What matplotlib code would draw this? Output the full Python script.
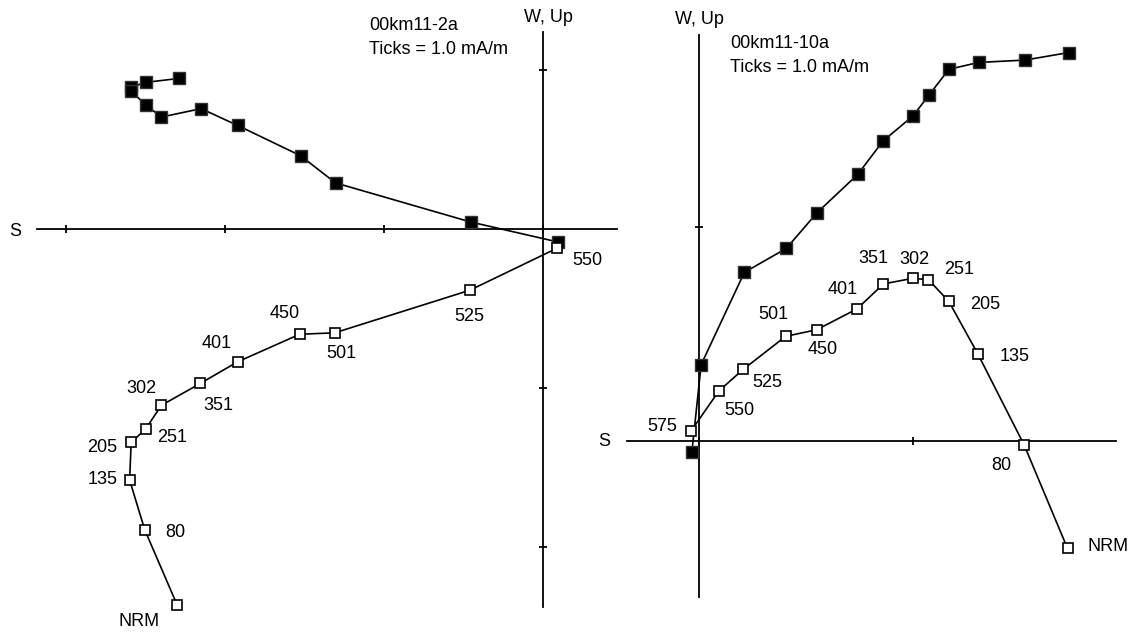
import numpy as np
import matplotlib
matplotlib.use("Agg")
import matplotlib.pyplot as plt

plt.rcParams['font.family'] = ['Liberation Sans', 'DejaVu Sans']

# demagnetisation steps
steps_a = ["NRM", "80", "135", "205", "251", "302", "351", "401", "450", "501", "525", "550"]
steps_b = ["NRM", "80", "135", "205", "251", "302", "351", "401", "450", "501", "525", "550", "575"]

# 00km11-2a (mA/m), N component on x
a_n = [-2.29, -2.50, -2.59, -2.59, -2.50, -2.40, -2.15, -1.92, -1.525, -1.305, -0.455, 0.095]
a_w = [0.947, 0.922, 0.892, 0.867, 0.782, 0.704, 0.757, 0.651, 0.461, 0.290, 0.044, -0.082]
a_n2 = [-2.30, -2.505, -2.60, -2.59, -2.50, -2.40, -2.155, -1.92, -1.53, -1.31, -0.46, 0.09]
a_up = [-2.367, -1.891, -1.578, -1.342, -1.259, -1.109, -0.971, -0.835, -0.662, -0.653, -0.385, -0.12]

# 00km11-10a (mA/m)
b_n = [1.727, 1.523, 1.307, 1.168, 1.075, 1.0, 0.86, 0.742, 0.552, 0.408, 0.212, 0.01, -0.033]
b_w = [1.815, 1.780, 1.769, 1.737, 1.617, 1.519, 1.402, 1.246, 1.067, 0.900, 0.788, 0.357, -0.05]
b_n2 = [1.722, 1.52, 1.303, 1.167, 1.072, 0.998, 0.862, 0.738, 0.55, 0.405, 0.207, 0.093, -0.037]
b_up = [-0.502, -0.020, 0.407, 0.653, 0.754, 0.760, 0.734, 0.617, 0.520, 0.489, 0.335, 0.234, 0.047]

W, H = 1135, 634
fig = plt.figure(figsize=(W / 100, H / 100), dpi=100)

# label offsets in pixels (dx right, dy up)
off_a = [(-38, -16), (31, -3), (-27, 0), (-29, -5), (27, -8), (-20, 17),
         (18, -22), (-21, 18), (-15, 21), (7, -21), (-1, -26), (30, -12)]
off_b = [(41, 2), (-23, -20), (37, -3), (36, -3), (31, 10), (2, 19),
         (-10, 25), (-14, 19), (6, -20), (-12, 22), (24, -13), (20, -20), (-29, 4)]


def panel(left, width, ox, oy, unit, hx, vy, ticks_x, ticks_y,
          n1, w1, n2, up2, labels, offs):
    ax = fig.add_axes([left / W, 0, width / W, 1])
    ax.set_xlim((left - ox) / unit, (left + width - ox) / unit)
    ax.set_ylim((oy - H) / unit, oy / unit)
    ax.axis('off')
    ax.plot(hx, [0, 0], color='black', lw=1.3)
    ax.plot([0, 0], vy, color='black', lw=1.3)
    ax.plot(ticks_x, np.zeros(len(ticks_x)), marker='|', ms=6, mew=1.3,
            ls='none', color='black')
    ax.plot(np.zeros(len(ticks_y)), ticks_y, marker='_', ms=6, mew=1.3,
            ls='none', color='black')
    ax.plot(n1, w1, '-', color='black', lw=1.2, marker='s', ms=8,
            mfc='black', mec='#333333', mew=1.0)
    ax.plot(n2, up2, '-', color='black', lw=1.2, marker='s', ms=6.5,
            mfc='white', mec='black', mew=1.2)
    for x, y, s, o in zip(n2, up2, labels, offs):
        ax.annotate(s, (x, y), xytext=o, textcoords='offset pixels',
                    ha='center', va='center', fontsize=13)
    return ax


panel(0, 620, 543, 229, 159, [-3.18, 0.465], [1.24, -2.38],
      [-3, -2, -1, 0], [1, -1, -2], a_n, a_w, a_n2, a_up, steps_a, off_a)
panel(620, 515, 699, 441, 214, [-0.336, 1.95], [1.897, -0.729],
      [0, 1], [1], b_n, b_w, b_n2, b_up, steps_b, off_b)


def ftext(x, y, s, **kw):
    fig.text(x / W, 1 - y / H, s, va='center', fontsize=13, **kw)


ftext(548, 17, "W, Up", ha='center')
ftext(15, 232, "S", ha='center')
ftext(369, 25, "00km11-2a", ha='left')
ftext(369, 49, "Ticks = 1.0 mA/m", ha='left')
ftext(699, 20, "W, Up", ha='center')
ftext(604, 442, "S", ha='center')
ftext(730, 43, "00km11-10a", ha='left')
ftext(730, 67, "Ticks = 1.0 mA/m", ha='left')

fig.savefig("out.png", dpi=100)
